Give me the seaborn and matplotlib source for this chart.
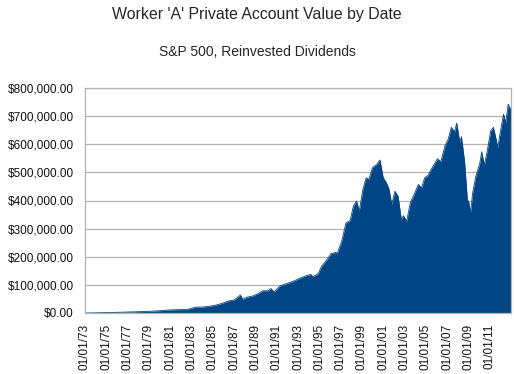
import matplotlib
matplotlib.use('Agg')
import matplotlib.pyplot as plt
import matplotlib.dates as mdates
from matplotlib.ticker import MultipleLocator, FuncFormatter, FixedLocator
import pandas as pd
import seaborn as sns

# values (decimal year, account value in $1000)
years = [1973.0, 1974.0, 1975.0, 1976.0, 1977.0, 1978.0, 1979.0, 1980.0, 1981.0, 1982.0,
         1982.6, 1983.0, 1983.5, 1984.0, 1984.5, 1985.0, 1985.5, 1986.0, 1986.5, 1987.0,
         1987.3, 1987.6, 1987.8, 1988.2, 1988.8, 1989.3, 1989.7, 1990.2, 1990.45, 1990.75,
         1991.3, 1991.9, 1992.5, 1993.2, 1993.8, 1994.2, 1994.4, 1994.9, 1995.2, 1995.7,
         1996.1, 1996.5, 1996.7, 1997.1, 1997.5, 1997.9, 1998.2, 1998.5, 1998.75, 1999.1,
         1999.4, 1999.65, 2000.0, 2000.4, 2000.7, 2001.0, 2001.3, 2001.55, 2001.8, 2002.1,
         2002.4, 2002.7, 2002.9, 2003.2, 2003.55, 2004.0, 2004.3, 2004.6, 2004.9, 2005.2,
         2005.5, 2005.8, 2006.1, 2006.4, 2006.8, 2007.1, 2007.4, 2007.7, 2007.9, 2008.2,
         2008.35, 2008.65, 2008.9, 2009.05, 2009.2, 2009.4, 2009.7, 2010.05, 2010.25, 2010.5,
         2010.8, 2011.1, 2011.35, 2011.6, 2011.75, 2012.05, 2012.3, 2012.5, 2012.75, 2012.95,
         2013.0]
values_k = [0, 0.5, 1.5, 2.5, 3.5, 4.5, 6, 8, 11, 12,
            12, 17, 21, 21, 23, 26, 30, 36, 43, 46,
            55, 64, 49, 56, 61, 70, 79, 79, 87, 75,
            96, 104, 112, 124, 133, 137, 129, 140, 165, 189,
            211, 215, 213, 255, 320, 329, 380, 398, 362, 440,
            481, 475, 517, 529, 544, 481, 463, 440, 386, 433,
            415, 332, 346, 326, 392, 430, 457, 445, 481, 489,
            511, 529, 549, 537, 594, 618, 660, 644, 675, 606,
            627, 535, 404, 392, 356, 427, 487, 529, 573, 525,
            583, 648, 660, 618, 588, 654, 707, 677, 743, 719,
            730]
tick_years = list(range(1973, 2012, 2))


def to_date(y):
    yr = int(y)
    return pd.Timestamp(yr, 1, 1) + pd.Timedelta(days=(y - yr) * 365.25)


df = pd.DataFrame({'date': [to_date(y) for y in years],
                   'value': [v * 1000 for v in values_k]})

sns.set_style('white')
plt.rcParams['font.family'] = ['Liberation Sans', 'DejaVu Sans']

blue = '#004586'
grey = '#b3b3b3'

fig = plt.figure(figsize=(5.14, 3.74), dpi=100)
ax = fig.add_axes([85 / 514, 61 / 374, 426 / 514, 225 / 374])

sns.lineplot(data=df, x='date', y='value', color=blue, lw=0.6, ax=ax)
ax.fill_between(df['date'], df['value'], color=blue, lw=0)

ax.set_xlim(pd.Timestamp('1973-01-01'), pd.Timestamp('2013-01-01'))
ax.set_ylim(0, 800000)
ax.yaxis.set_major_locator(MultipleLocator(100000))
ax.yaxis.set_major_formatter(FuncFormatter(lambda v, p: f'${v:,.2f}'))
ax.xaxis.set_major_locator(FixedLocator(
    [mdates.date2num(pd.Timestamp(y, 1, 1)) for y in tick_years]))
ax.xaxis.set_major_formatter(mdates.DateFormatter('%m/%d/%y'))

ax.grid(axis='y', color=grey, lw=0.9)
ax.grid(axis='x', visible=False)
ax.set_axisbelow(True)
for s in ax.spines.values():
    s.set_color(grey)
    s.set_linewidth(0.9)

ax.tick_params(axis='both', length=6, width=0.9, color=grey, labelsize=8.5,
               labelcolor='#111111', pad=2)
plt.setp(ax.get_xticklabels(), rotation=90)
ax.set_xlabel('')
ax.set_ylabel('')

fig.text(0.5, 1 - 15 / 374, "Worker 'A' Private Account Value by Date",
         ha='center', va='center', fontsize=11.4)
fig.text(0.5, 1 - 52 / 374, 'S&P 500, Reinvested Dividends',
         ha='center', va='center', fontsize=10)

fig.savefig('out.png', dpi=100)
